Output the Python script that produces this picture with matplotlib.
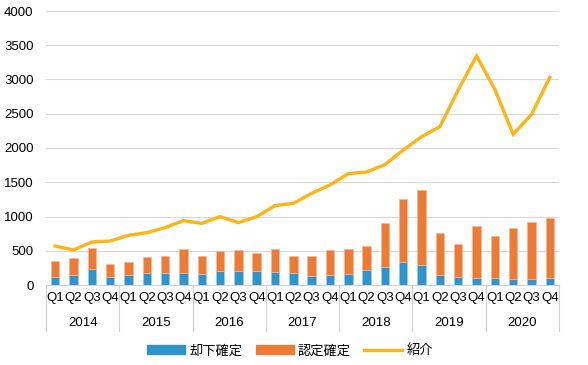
import numpy as np
import matplotlib.pyplot as plt
import matplotlib.transforms as mtransforms
from matplotlib.lines import Line2D
from matplotlib.patches import Patch

plt.rcParams['font.family'] = ['Liberation Sans', 'Noto Sans CJK JP', 'DejaVu Sans']

years = ['2014', '2015', '2016', '2017', '2018', '2019', '2020']
quarters = ['Q1', 'Q2', 'Q3', 'Q4']

# 却下確定 (rejected)
rejected = [112, 141, 234, 122, 141, 180, 180, 175, 165, 200, 209, 200,
            195, 175, 127, 141, 161, 219, 263, 336, 287, 146, 112, 102,
            102, 83, 83, 102]
# bar totals (却下確定 + 認定確定)
totals = [355, 399, 540, 302, 341, 409, 423, 521, 418, 496, 511, 472,
          521, 418, 418, 511, 530, 564, 900, 1251, 1392, 759, 594, 866,
          715, 827, 920, 983]
# 紹介
referral = [569, 511, 628, 642, 725, 764, 837, 939, 900, 998, 910, 998,
            1158, 1192, 1338, 1460, 1625, 1650, 1757, 1971, 2165, 2311, 2847, 3343,
            2856, 2200, 2491, 3032]

approved = [t - r for t, r in zip(totals, rejected)]

blue = '#2E94CB'
orange = '#EE7B35'
gold = '#FDB515'

fig = plt.figure(figsize=(5.88, 3.65), dpi=100)
ax = fig.add_axes([46 / 588, 1 - 285 / 365, (559 - 46) / 588, (285 - 11) / 365])

x = np.arange(len(totals))
ax.bar(x, rejected, width=0.46, color=blue, edgecolor='#9fcbe5', linewidth=0.5, zorder=2)
ax.bar(x, approved, width=0.46, bottom=rejected, color=orange, edgecolor='#f6b894',
       linewidth=0.5, zorder=2)
ax.plot(x, referral, color=gold, linewidth=2.4, solid_joinstyle='miter', zorder=3)

ax.set_xlim(-0.5, len(totals) - 0.5)
ax.set_ylim(0, 4000)
ax.set_yticks(np.arange(0, 4001, 500))
ax.yaxis.grid(True, color='#d9d9d9', linewidth=0.8, zorder=0)
ax.set_axisbelow(True)
for s in ['top', 'right', 'left']:
    ax.spines[s].set_visible(False)
ax.spines['bottom'].set_color('#d0d0d0')
ax.tick_params(axis='y', length=0, labelsize=9.5, pad=9)
ax.tick_params(axis='x', length=0, labelsize=9.5, pad=5)

ax.set_xticks(x)
ax.set_xticklabels(quarters * len(years))

# year group labels and separators
trans = mtransforms.blended_transform_factory(ax.transData, ax.transAxes)
sep_bottom = -(331 - 285) / 274
year_y = -(323 - 285) / 274
for i, yr in enumerate(years):
    ax.text(i * 4 + 1.5, year_y, yr, transform=trans, ha='center', va='center', fontsize=9.5)
for i in range(len(years) + 1):
    ax.add_line(Line2D([i * 4 - 0.5, i * 4 - 0.5], [0, sep_bottom], transform=trans,
                       color='#d0d0d0', linewidth=0.8, clip_on=False))

handles = [Patch(color=blue, label='却下確定'),
           Patch(color=orange, label='認定確定'),
           Line2D([], [], color=gold, linewidth=2.4, label='紹介')]
fig.legend(handles=handles, loc='center', bbox_to_anchor=(290 / 588, 1 - 351 / 365),
           ncol=3, frameon=False, fontsize=9.5, handlelength=2.9, handleheight=0.7,
           columnspacing=1.0, handletextpad=0.3)

fig.savefig('out.png', dpi=100)
